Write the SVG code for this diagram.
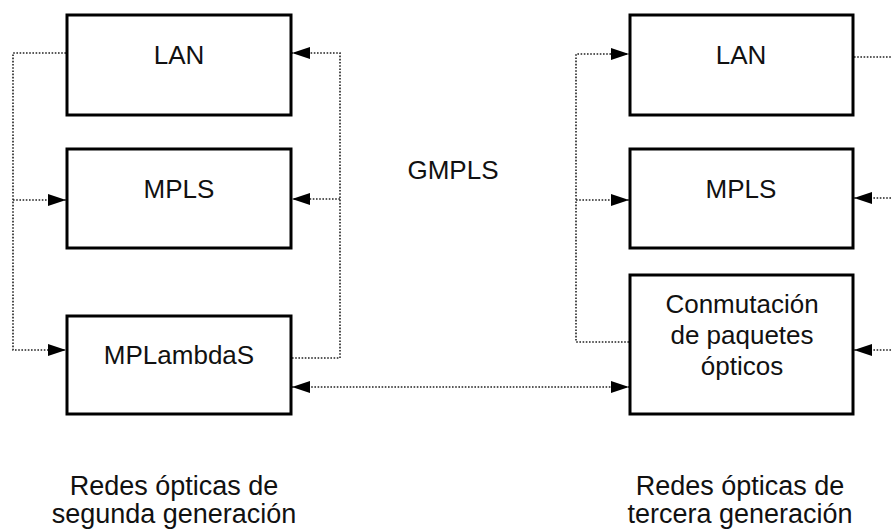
<svg xmlns="http://www.w3.org/2000/svg" width="891" height="529" viewBox="0 0 891 529">
<style>
.box{fill:#fff;stroke:#000;stroke-width:3}
.t{font-family:"Liberation Sans",Arial,sans-serif;font-size:26px;fill:#111;text-anchor:middle}
.b{font-size:27px}
.c{fill:none;stroke:#222;stroke-width:1.6;stroke-dasharray:1.6 1.6}
</style>
<defs>
<marker id="ah" markerUnits="userSpaceOnUse" markerWidth="18" markerHeight="12" refX="18" refY="6" orient="auto-start-reverse" viewBox="0 0 18 12">
<path d="M0,0 L18,6 L0,12 z" fill="#000"/>
</marker>
</defs>
<rect width="891" height="529" fill="#fff"/>
<g id="connectors">
<path class="c" d="M66,53 H13 V350 H66" marker-end="url(#ah)"/>
<path class="c" d="M13,200 H66" marker-end="url(#ah)"/>
<path class="c" d="M292,358 H340 V53 H292" marker-end="url(#ah)"/>
<path class="c" d="M340,199 H292" marker-end="url(#ah)"/>
<path class="c" d="M292,387 H629" marker-start="url(#ah)" marker-end="url(#ah)"/>
<path class="c" d="M629,342 H576 V54 H629" marker-end="url(#ah)"/>
<path class="c" d="M576,200 H629" marker-end="url(#ah)"/>
<path class="c" d="M854,57 H891"/>
<path class="c" d="M891,198 H854" marker-end="url(#ah)"/>
<path class="c" d="M891,350 H854" marker-end="url(#ah)"/>
</g>
<g id="lan1"><rect class="box" x="67" y="15" width="224" height="100"/><text class="t" x="179" y="64">LAN</text></g>
<g id="mpls1"><rect class="box" x="67" y="149" width="224" height="99"/><text class="t" x="179" y="198">MPLS</text></g>
<g id="mplambdas"><rect class="box" x="67" y="316" width="224" height="98"/><text class="t" x="179" y="364">MPLambdaS</text></g>
<g id="lan2"><rect class="box" x="630" y="15" width="223" height="100"/><text class="t" x="741" y="64">LAN</text></g>
<g id="mpls2"><rect class="box" x="630" y="149" width="223" height="99"/><text class="t" x="741" y="198">MPLS</text></g>
<g id="conmutacion"><rect class="box" x="630" y="275" width="223" height="139"/>
<text class="t" x="742" y="313">Conmutación</text>
<text class="t" x="742" y="344">de paquetes</text>
<text class="t" x="742" y="375">ópticos</text></g>
<g id="gmpls"><text class="t" x="453" y="179">GMPLS</text></g>
<g id="label2"><text class="t b" x="174" y="495">Redes ópticas de</text><text class="t b" x="174" y="523">segunda generación</text></g>
<g id="label3"><text class="t b" x="740" y="495">Redes ópticas de</text><text class="t b" x="740" y="523">tercera generación</text></g>
</svg>
